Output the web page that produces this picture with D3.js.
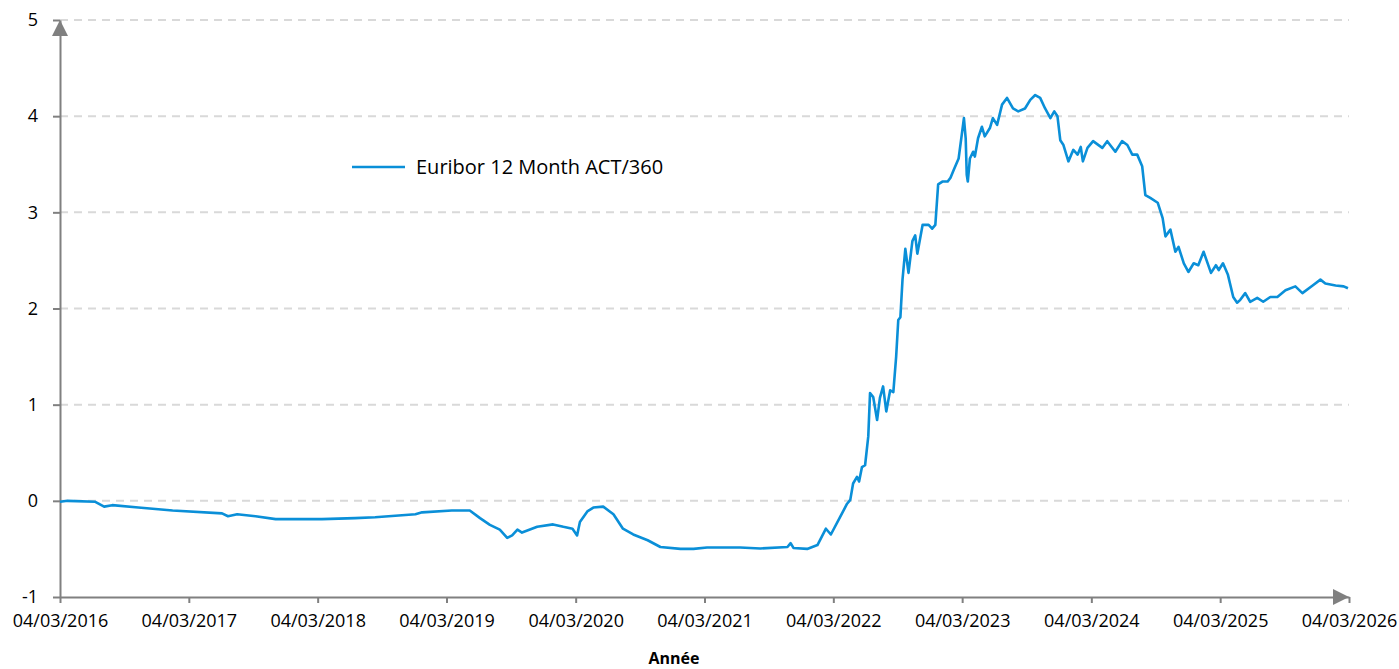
<!DOCTYPE html>
<html>
<head>
<meta charset="utf-8">
<script src="https://cdn.jsdelivr.net/npm/d3@7"></script>
<style>
  body { margin: 0; background: #fff; }
  svg { display: block; font-family: "Open Sans", sans-serif; }
</style>
</head>
<body>
<svg id="chart" width="1399" height="669"></svg>
<script>
// Euribor 12 Month ACT/360
var seriesName = "Euribor 12 Month ACT/360";
var xTitle = "Année";

var dates = [
  "2016-03-04","2016-03-26","2016-06-12","2016-07-07","2016-07-30","2016-10-12","2017-01-17",
  "2017-06-06","2017-06-23","2017-07-19","2017-09-09","2017-11-05","2018-03-16","2018-06-18",
  "2018-08-14","2018-12-06","2018-12-25","2019-03-19","2019-05-09","2019-06-07","2019-07-05",
  "2019-08-02","2019-08-23","2019-09-06","2019-09-21","2019-10-04","2019-11-16","2019-12-31",
  "2020-01-29","2020-02-24","2020-03-08","2020-03-16","2020-04-06","2020-04-23","2020-05-21",
  "2020-06-19","2020-07-16","2020-08-14","2020-09-24","2020-10-30","2020-12-26","2021-02-01",
  "2021-03-11","2021-06-13","2021-08-09","2021-10-25","2021-11-03","2021-11-11","2021-12-20",
  "2022-01-18","2022-02-11","2022-02-25","2022-03-23","2022-04-12","2022-04-21","2022-04-29",
  "2022-05-10","2022-05-16","2022-05-24","2022-06-02","2022-06-11","2022-06-16","2022-06-25",
  "2022-07-06","2022-07-14","2022-07-23","2022-08-01","2022-08-12","2022-08-21","2022-08-29",
  "2022-09-04","2022-09-10","2022-09-16","2022-09-24","2022-10-03","2022-10-14","2022-10-22",
  "2022-10-28","2022-11-12","2022-11-29","2022-12-09","2022-12-18","2022-12-26","2023-01-07",
  "2023-01-22","2023-01-30","2023-02-08","2023-02-22","2023-03-03","2023-03-09","2023-03-14",
  "2023-03-17","2023-03-20","2023-03-26","2023-04-04","2023-04-09","2023-04-18","2023-04-29",
  "2023-05-07","2023-05-22","2023-05-30","2023-06-11","2023-06-25","2023-07-09","2023-07-26",
  "2023-08-10","2023-08-29","2023-09-13","2023-09-27","2023-10-11","2023-10-25","2023-11-09",
  "2023-11-20","2023-11-29","2023-12-07","2023-12-16","2023-12-30","2024-01-13","2024-01-25",
  "2024-02-03","2024-02-09","2024-02-22","2024-03-09","2024-04-04","2024-04-18","2024-05-11",
  "2024-05-30","2024-06-14","2024-06-28","2024-07-12","2024-07-26","2024-08-04","2024-08-18",
  "2024-09-08","2024-09-22","2024-09-30","2024-10-14","2024-10-28","2024-11-06","2024-11-21",
  "2024-12-04","2024-12-19","2025-01-01","2025-01-16","2025-02-06","2025-02-20","2025-02-28",
  "2025-03-12","2025-03-26","2025-04-10","2025-04-21","2025-04-30","2025-05-14","2025-05-28",
  "2025-06-17","2025-07-04","2025-07-24","2025-08-13","2025-09-05","2025-10-03","2025-10-23",
  "2025-11-21","2025-12-13","2025-12-27","2026-01-25","2026-02-17","2026-03-01"
];

var rates = [
  -0.01, 0.00, -0.01, -0.06, -0.045, -0.07, -0.10,
  -0.13, -0.16, -0.14, -0.16, -0.19, -0.19, -0.18,
  -0.17, -0.14, -0.12, -0.10, -0.10, -0.18, -0.25,
  -0.30, -0.385, -0.36, -0.30, -0.33, -0.27, -0.245,
  -0.27, -0.29, -0.36, -0.22, -0.11, -0.07, -0.06,
  -0.14, -0.29, -0.35, -0.41, -0.48, -0.50, -0.50,
  -0.485, -0.485, -0.495, -0.48, -0.44, -0.49, -0.50,
  -0.46, -0.29, -0.35, -0.17, -0.03, 0.01, 0.18,
  0.25, 0.20, 0.35, 0.37, 0.67, 1.12, 1.08,
  0.84, 1.07, 1.19, 0.93, 1.15, 1.13, 1.50,
  1.88, 1.91, 2.30, 2.62, 2.37, 2.70, 2.76,
  2.57, 2.87, 2.87, 2.83, 2.87, 3.29, 3.32,
  3.32, 3.36, 3.44, 3.56, 3.81, 3.98, 3.77,
  3.39, 3.32, 3.56, 3.63, 3.58, 3.77, 3.89,
  3.79, 3.88, 3.98, 3.91, 4.12, 4.19, 4.08,
  4.05, 4.08, 4.17, 4.22, 4.19, 4.08, 3.98,
  4.05, 4.00, 3.75, 3.70, 3.53, 3.65, 3.60,
  3.68, 3.53, 3.67, 3.74, 3.67, 3.74, 3.63,
  3.74, 3.70, 3.60, 3.60, 3.48, 3.18, 3.15,
  3.10, 2.94, 2.75, 2.82, 2.59, 2.64, 2.47,
  2.38, 2.47, 2.45, 2.59, 2.37, 2.45, 2.40,
  2.47, 2.35, 2.12, 2.06, 2.09, 2.16, 2.07,
  2.11, 2.07, 2.12, 2.12, 2.19, 2.23, 2.16,
  2.24, 2.30, 2.26, 2.24, 2.23, 2.21
];

var xTickDates = ["2016-03-04","2017-03-04","2018-03-04","2019-03-04","2020-03-04",
  "2021-03-04","2022-03-04","2023-03-04","2024-03-04","2025-03-04","2026-03-04"];
var yTicks = [-1, 0, 1, 2, 3, 4, 5];

var parse = d3.timeParse("%Y-%m-%d");
var fmt = d3.timeFormat("%d/%m/%Y");

var data = dates.map(function(d, i) { return { date: parse(d), value: rates[i] }; });

var axisColor = "#808080";
var lineColor = "#0a8fd8";

var svg = d3.select("#chart");

var x = d3.scaleTime()
    .domain([parse(xTickDates[0]), parse(xTickDates[xTickDates.length - 1])])
    .range([60, 1349]);

var y = d3.scaleLinear()
    .domain([-1, 5])
    .range([597, 20]);

// dashed gridlines
svg.append("g")
  .selectAll("line")
  .data(yTicks.filter(function(d) { return d > -1; }))
  .enter().append("line")
    .attr("x1", x.range()[0])
    .attr("x2", x.range()[1])
    .attr("y1", function(d) { return y(d); })
    .attr("y2", function(d) { return y(d); })
    .attr("stroke", "#d9d9d9")
    .attr("stroke-width", 2)
    .attr("stroke-dasharray", "8,6");

// y axis (plain hyphen for negatives, like the original)
var yAxis = svg.append("g")
    .attr("transform", "translate(" + x.range()[0] + ",0)")
    .call(d3.axisLeft(y).tickValues(yTicks).tickFormat(function(d) { return String(d); })
      .tickSize(7).tickSizeOuter(0).tickPadding(15));

// x axis
var xAxis = svg.append("g")
    .attr("transform", "translate(0," + y(-1) + ")")
    .call(d3.axisBottom(x).tickValues(xTickDates.map(parse)).tickFormat(fmt)
      .tickSize(6).tickSizeOuter(0).tickPadding(11));

[yAxis, xAxis].forEach(function(g) {
  g.select(".domain").attr("stroke", axisColor).attr("stroke-width", 2);
  g.selectAll(".tick line").attr("stroke", axisColor).attr("stroke-width", 2);
  g.selectAll(".tick text")
    .attr("fill", "#000")
    .style("font-family", "'Open Sans', sans-serif")
    .style("font-size", "18px");
});

// arrow heads on both axes
var yTop = y(5), xEnd = x.range()[1], x0 = x.range()[0], yBase = y(-1);
svg.append("path")
    .attr("d", "M" + x0 + "," + yTop + "L" + (x0 + 8) + "," + (yTop + 16) + "L" + (x0 - 8) + "," + (yTop + 16) + "Z")
    .attr("fill", axisColor);
svg.append("path")
    .attr("d", "M" + xEnd + "," + yBase + "L" + (xEnd - 16) + "," + (yBase - 8) + "L" + (xEnd - 16) + "," + (yBase + 8) + "Z")
    .attr("fill", axisColor);

// the series
var line = d3.line()
    .x(function(d) { return x(d.date); })
    .y(function(d) { return y(d.value); });

svg.append("path")
    .datum(data)
    .attr("d", line)
    .attr("fill", "none")
    .attr("stroke", lineColor)
    .attr("stroke-width", 2.6)
    .attr("stroke-linejoin", "round");

// legend
var legend = svg.append("g").attr("transform", "translate(352,167)");
legend.append("line")
    .attr("x1", 0).attr("x2", 53)
    .attr("stroke", lineColor)
    .attr("stroke-width", 2.6);
legend.append("text")
    .attr("x", 64)
    .attr("dy", "0.35em")
    .style("font-size", "20px")
    .text(seriesName);

// x axis title
svg.append("text")
    .attr("x", 674)
    .attr("y", 664)
    .attr("text-anchor", "middle")
    .style("font-size", "16px")
    .style("font-weight", "bold")
    .text(xTitle);
</script>
</body>
</html>
